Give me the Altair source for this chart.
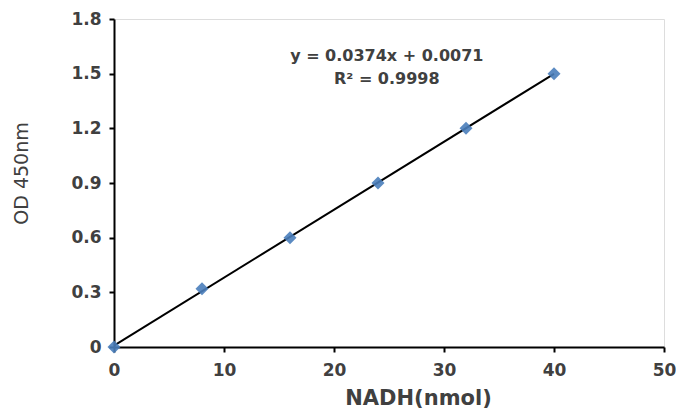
import altair as alt
import pandas as pd

nadh = [0, 8, 16, 24, 32, 40]
od450 = [0.0, 0.32, 0.60, 0.90, 1.20, 1.50]

eq_x = [24.8, 24.8]
eq_y = [1.595, 1.47]
eq_text = ["y = 0.0374x + 0.0071", "R² = 0.9998"]

df = pd.DataFrame({"x": nadh, "y": od450})
ann = pd.DataFrame({"x": eq_x, "y": eq_y, "t": eq_text})

FONT = "DejaVu Sans"
xscale = alt.Scale(domain=[0, 50], nice=False, zero=True)
yscale = alt.Scale(domain=[0, 1.8], nice=False, zero=True)

xaxis = alt.Axis(
    title="NADH(nmol)", values=[0, 10, 20, 30, 40, 50], grid=False, labelFlush=False,
    domainColor="#000000", domainWidth=2, tickColor="#000000", tickWidth=2, tickSize=5,
    labelFont=FONT, labelFontSize=17, labelFontWeight="bold", labelColor="#404040",
    labelPadding=10, titleFont=FONT, titleFontSize=21, titleFontWeight="bold",
    titleColor="#404040", titleX=304, titleY=51, titleAlign="center", titleBaseline="middle",
)
yaxis = alt.Axis(
    title="OD 450nm", values=[0, 0.3, 0.6, 0.9, 1.2, 1.5, 1.8], grid=False, labelFlush=False,
    labelExpr="datum.value == 0 ? '0' : format(datum.value, '.1f')",
    domainColor="#000000", domainWidth=2, tickColor="#000000", tickWidth=2, tickSize=5,
    labelFont=FONT, labelFontSize=17, labelFontWeight="bold", labelColor="#404040",
    labelPadding=8, titleFont=FONT, titleFontSize=19, titleFontWeight="normal",
    titleColor="#404040", titleX=-93, titleY=154, titleAlign="center", titleBaseline="middle",
)

base = alt.Chart(df)

fit = base.transform_regression("x", "y", method="linear", extent=[0, 40]).mark_line(
    color="#000000", strokeWidth=2
).encode(x=alt.X("x:Q", scale=xscale, axis=xaxis), y=alt.Y("y:Q", scale=yscale, axis=yaxis))

pts = base.mark_point(shape="diamond", filled=True, size=170, color="#4A7EBB", opacity=0.9).encode(
    x=alt.X("x:Q", scale=xscale), y=alt.Y("y:Q", scale=yscale)
)

txt = alt.Chart(ann).mark_text(
    font=FONT, fontSize=16, fontWeight="bold", color="#404040", align="center", baseline="middle"
).encode(x=alt.X("x:Q", scale=xscale), y=alt.Y("y:Q", scale=yscale), text="t:N")

chart = (fit + pts + txt).properties(
    width=550, height=328,
    autosize=alt.AutoSizeParams(type="none"),
    padding={"left": 106, "top": 11, "right": 12, "bottom": 61},
).configure_view(stroke=None).configure(background="#ffffff")

chart.save("out.html", embed_options={"renderer": "svg", "actions": False})
